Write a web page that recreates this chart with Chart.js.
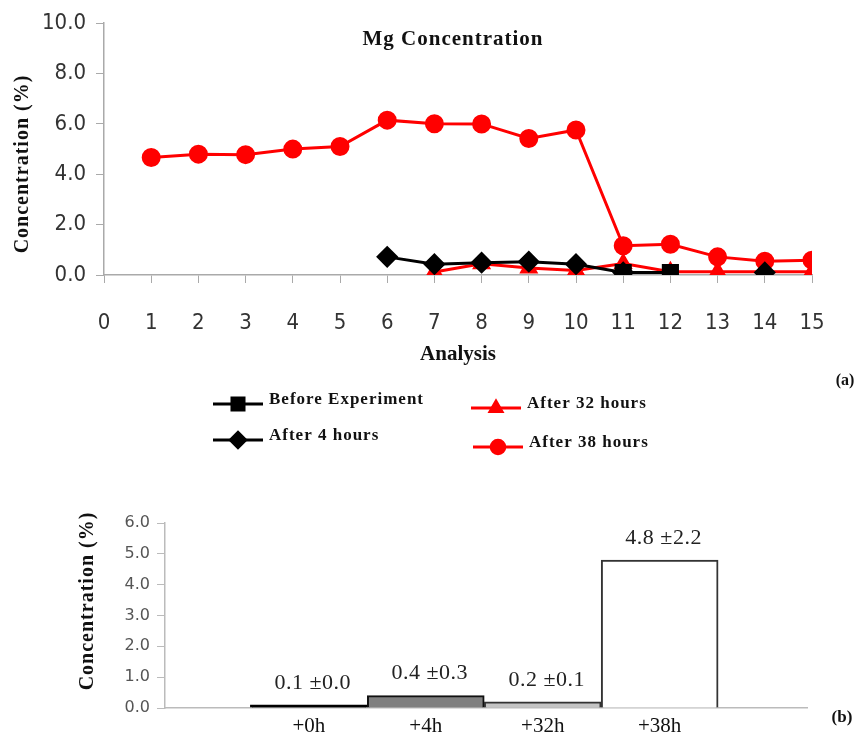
<!DOCTYPE html>
<html>
<head>
<meta charset="utf-8">
<title>Mg Concentration</title>
<script src="https://cdn.jsdelivr.net/npm/chart.js@4.4.1/dist/chart.umd.min.js"></script>
<style>
    html, body { margin: 0; padding: 0; background: #fff; }
    #top { position: absolute; left: 0; top: 0; width: 864px; height: 480px; }
    #bottom { position: absolute; left: 0; top: 480px; width: 864px; height: 253px; }
</style>
</head>
<body>
<div id="top"><canvas id="lineChart"></canvas></div>
<div id="bottom"><canvas id="barChart"></canvas></div>
<script>
// Mg concentration (%) for each analysis point
const analysis = [1, 2, 3, 4, 5, 6, 7, 8, 9, 10, 11, 12, 13, 14, 15];
const beforeExperiment = [null, null, null, null, null, null, null, null, null, null, 0.1, 0.1, null, null, null];
const after4Hours = [null, null, null, null, null, 0.72, 0.43, 0.49, 0.53, 0.43, 0.1, null, null, 0.1, null];
const after32Hours = [null, null, null, null, null, null, 0.12, 0.45, 0.28, 0.18, 0.46, 0.13, 0.13, 0.13, 0.13];
const after38Hours = [4.67, 4.8, 4.78, 5.0, 5.1, 6.15, 6.01, 6.0, 5.42, 5.76, 1.16, 1.22, 0.72, 0.55, 0.59];
const lineYTicks = [0, 2, 4, 6, 8, 10];
const lineXTicks = [0, 1, 2, 3, 4, 5, 6, 7, 8, 9, 10, 11, 12, 13, 14, 15];

// Mean concentration per sampling time, with its spread
const barCategories = ['+0h', '+4h', '+32h', '+38h'];
const barMeans = [0.1, 0.4, 0.2, 4.8];
const barSpread = [0.0, 0.3, 0.1, 2.2];
const barYTicks = [0, 1, 2, 3, 4, 5, 6];

const serif = '"Liberation Serif", "Times New Roman", serif';
const narrow = '"DejaVu Sans Condensed", "Arial Narrow", sans-serif';

function points(values) {
    return analysis.map((x, i) => ({ x: x, y: values[i] }));
}

function sideTitle(ctx, text, x, y) {
    ctx.save();
    ctx.translate(x, y);
    ctx.rotate(-Math.PI / 2);
    ctx.textAlign = 'center';
    ctx.textBaseline = 'middle';
    ctx.fillStyle = '#111';
    ctx.letterSpacing = '1px';
    ctx.font = 'bold 20px ' + serif;
    ctx.fillText(text, 0, 0);
    ctx.restore();
}

// Title, axis title, panel tag and the two-column legend below the axis
const lineDecor = {
    id: 'lineDecor',
    afterDraw(chart) {
        const ctx = chart.ctx;
        const area = chart.chartArea;
        sideTitle(ctx, 'Concentration (%)', 23, 164);
        ctx.save();
        ctx.fillStyle = '#111';
        ctx.textBaseline = 'middle';
        ctx.textAlign = 'center';
        ctx.letterSpacing = '1px';
        ctx.font = 'bold 21px ' + serif;
        ctx.fillText('Mg Concentration', (area.left + area.right) / 2 - 5, 40);

        ctx.letterSpacing = '0px';
        ctx.font = 'bold 16px ' + serif;
        ctx.fillText('(a)', 845, 381);

        const slots = [
            { x: 213, y: 404 }, { x: 213, y: 440 },
            { x: 471, y: 408 }, { x: 473, y: 447 }
        ];
        ctx.letterSpacing = '1px';
        ctx.font = 'bold 17px ' + serif;
        ctx.textAlign = 'left';
        chart.data.datasets.forEach((ds, i) => {
            const s = slots[i];
            ctx.strokeStyle = ds.borderColor;
            ctx.lineWidth = 3;
            ctx.beginPath();
            ctx.moveTo(s.x, s.y);
            ctx.lineTo(s.x + 50, s.y);
            ctx.stroke();
            ctx.fillStyle = ds.pointBackgroundColor;
            ctx.strokeStyle = ds.borderColor;
            Chart.helpers.drawPoint(ctx, {
                pointStyle: ds.pointStyle,
                radius: ds.pointRadius * 0.85,
                rotation: 0,
                borderWidth: 1
            }, s.x + 25, s.y);
            ctx.fillStyle = '#111';
            ctx.fillText(ds.label, s.x + 56, s.y - 4);
        });
        ctx.restore();
    }
};

const lineChart = new Chart(document.getElementById('lineChart'), {
    type: 'line',
    data: {
        datasets: [{
            label: 'Before Experiment',
            data: points(beforeExperiment),
            borderColor: '#000',
            pointBackgroundColor: '#000',
            pointStyle: 'rect',
            pointRadius: 10,
            borderWidth: 3
        }, {
            label: 'After 4 hours',
            data: points(after4Hours),
            borderColor: '#000',
            pointBackgroundColor: '#000',
            pointStyle: 'rectRot',
            pointRadius: 9,
            borderWidth: 3
        }, {
            label: 'After 32 hours',
            data: points(after32Hours),
            borderColor: '#ff0000',
            pointBackgroundColor: '#ff0000',
            pointStyle: 'triangle',
            pointRadius: 8,
            borderWidth: 3
        }, {
            label: 'After 38 hours',
            data: points(after38Hours),
            borderColor: '#ff0000',
            pointBackgroundColor: '#ff0000',
            pointStyle: 'circle',
            pointRadius: 8,
            borderWidth: 3
        }]
    },
    options: {
        responsive: true,
        maintainAspectRatio: false,
        animation: false,
        spanGaps: false,
        layout: { padding: { left: 0, right: 52, top: 20, bottom: 105 } },
        scales: {
            x: {
                type: 'linear',
                min: 0, max: 15,
                afterBuildTicks: scale => { scale.ticks = lineXTicks.map(v => ({ value: v })); },
                afterFit: scale => { scale.height = 100; },
                grid: { drawOnChartArea: false, tickLength: 8, color: '#aaa' },
                border: { color: '#aaa', width: 1.5 },
                ticks: { autoSkip: false, maxRotation: 0, padding: 27, color: '#333', font: { family: narrow, size: 22 } },
                title: { display: true, text: 'Analysis', color: '#111', padding: { top: 0, bottom: 8 }, font: { family: serif, size: 21, weight: 'bold' } }
            },
            y: {
                min: 0, max: 10,
                afterBuildTicks: scale => { scale.ticks = lineYTicks.map(v => ({ value: v })); },
                afterFit: scale => { scale.width = 104; },
                grid: { drawOnChartArea: false, tickLength: 8, color: '#aaa' },
                border: { color: '#aaa', width: 1.5 },
                ticks: { padding: 10, color: '#333', font: { family: narrow, size: 22 }, callback: v => v.toFixed(1) }
            }
        },
        plugins: {
            legend: { display: false },
            tooltip: { enabled: false }
        }
    },
    plugins: [lineDecor]
});

// Value labels over the bars, axis title and the panel tag
const barDecor = {
    id: 'barDecor',
    afterDatasetsDraw(chart) {
        const ctx = chart.ctx;
        const meta = chart.getDatasetMeta(0);
        sideTitle(ctx, 'Concentration (%)', 88, 121);
        ctx.save();
        ctx.fillStyle = '#222';
        ctx.textAlign = 'center';
        ctx.textBaseline = 'middle';
        ctx.letterSpacing = '0.5px';
        ctx.font = '22px ' + serif;
        meta.data.forEach((bar, i) => {
            ctx.fillText(barMeans[i].toFixed(1) + ' \u00b1' + barSpread[i].toFixed(1), bar.x + 4, bar.y - 22);
        });
        ctx.letterSpacing = '0px';
        ctx.fillStyle = '#111';
        ctx.font = 'bold 17px ' + serif;
        ctx.fillText('(b)', 842, 238);
        ctx.restore();
    }
};

const barChart = new Chart(document.getElementById('barChart'), {
    type: 'bar',
    data: {
        datasets: [{
            data: barCategories.map((c, i) => ({ x: i, y: barMeans[i] })),
            backgroundColor: ['#000000', '#808080', '#c4c4c4', '#ffffff'],
            borderColor: ['#000000', '#111111', '#333333', '#333333'],
            borderWidth: 2,
            barPercentage: 1,
            categoryPercentage: 1
        }]
    },
    options: {
        responsive: true,
        maintainAspectRatio: false,
        animation: false,
        layout: { padding: { left: 0, right: 57, top: 43, bottom: 0 } },
        scales: {
            x: {
                type: 'linear',
                offset: false,
                min: -1.23, max: 4.26,
                afterBuildTicks: scale => { scale.ticks = barCategories.map((c, i) => ({ value: i })); },
                afterFit: scale => { scale.height = 25; },
                grid: { display: false, offset: false },
                border: { color: '#bbb', width: 1.5 },
                ticks: { autoSkip: false, maxRotation: 0, padding: -2, color: '#111', font: { family: serif, size: 21 }, callback: v => barCategories[v] }
            },
            y: {
                min: 0, max: 6,
                afterBuildTicks: scale => { scale.ticks = barYTicks.map(v => ({ value: v })); },
                afterFit: scale => { scale.width = 165; },
                grid: { drawOnChartArea: false, tickLength: 8, color: '#bbb' },
                border: { color: '#bbb', width: 1.5 },
                ticks: { padding: 7, color: '#555', font: { family: '"DejaVu Sans", Verdana, sans-serif', size: 16 }, callback: v => v.toFixed(1) }
            }
        },
        plugins: {
            legend: { display: false },
            tooltip: { enabled: false }
        }
    },
    plugins: [barDecor]
});
</script>
</body>
</html>
